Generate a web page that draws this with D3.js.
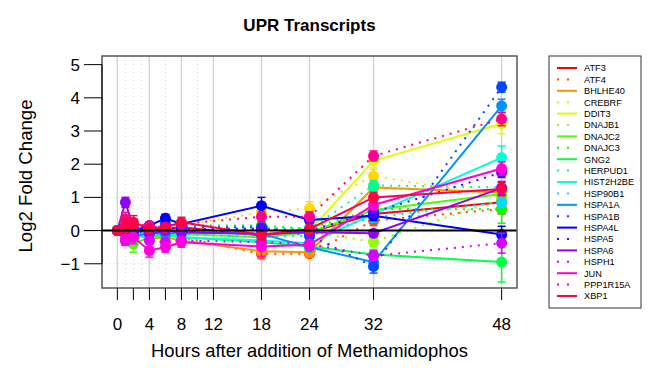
<!DOCTYPE html>
<html><head><meta charset="utf-8">
<script src="https://cdn.jsdelivr.net/npm/d3@7"></script>
<style>body{margin:0;background:#fff;}svg{display:block;font-family:"Liberation Sans",Arial,sans-serif;}</style>
</head><body>
<svg id="c" width="664" height="380"></svg>
<script>
const times = [0,1,2,4,6,8,18,24,32,48];
const genes = ["ATF3","ATF4","BHLHE40","CREBRF","DDIT3","DNAJB1","DNAJC2","DNAJC3","GNG2","HERPUD1","HIST2H2BE","HSP90B1","HSPA1A","HSPA1B","HSPA4L","HSPA5","HSPA6","HSPH1","JUN","PPP1R15A","XBP1"];
const colors = ["#FF0000","#FF4900","#FF9200","#FFDB00","#DBFF00","#92FF00","#49FF00","#00FF00","#00FF49","#00FF92","#00FFDB","#00DBFF","#0092FF","#0049FF","#0000FF","#4900FF","#9200FF","#DB00FF","#FF00DB","#FF0092","#FF0049"];
const xTicks = [0,2,4,6,8,10,12,18,24,32,48];
const xLabels = [0,4,8,12,18,24,32,48];
const yTicks = [-1,0,1,2,3,4,5];
const gridSolid = [0,4,8,12,18,24,32,48];
const gridDotted = [1,2,3,6,10];

const values = [
 [0, 0.10, 0.05, 0.00, 0.05, 0.10, -0.15, -0.05, 0.50, 0.85],   // ATF3
 [0, -0.05, -0.10, -0.20, -0.10, -0.20, -0.70, -0.70, 0.30, 0.65], // ATF4
 [0, 0.10, -0.10, -0.25, -0.20, -0.30, -0.62, -0.65, 1.30, 1.15], // BHLHE40
 [0, 0.20, 0.10, 0.05, 0.10, 0.15, 0.55, 0.67, 1.65, 1.00],      // CREBRF
 [0, 0.05, -0.05, -0.10, 0.00, -0.05, -0.10, 0.00, 2.10, 3.22],  // DDIT3
 [0, -0.10, -0.30, -0.15, -0.10, -0.05, 0.05, -0.05, -0.33, 0.95],// DNAJB1
 [0, -0.10, -0.40, -0.20, -0.15, -0.10, -0.20, -0.05, 0.62, 1.10],// DNAJC2
 [0, 0.05, -0.10, 0.10, 0.05, 0.15, 0.15, 0.05, 0.65, 0.64],     // DNAJC3
 [0, -0.05, -0.20, -0.10, -0.15, -0.20, -0.35, -0.48, -0.72, -0.95],// GNG2
 [0, 0.05, -0.10, -0.05, 0.00, 0.05, 0.10, 0.05, 1.36, 1.30],    // HERPUD1
 [0, -0.10, -0.20, -0.15, -0.10, -0.20, -0.30, -0.38, 0.50, 2.20],// HIST2H2BE
 [0, 0.05, -0.05, -0.10, -0.05, -0.10, -0.20, -0.15, 0.40, 0.85],// HSP90B1
 [0, -0.10, -0.20, -0.05, -0.10, -0.05, -0.10, -0.50, -0.95, 3.76],// HSPA1A
 [0, 0.05, -0.10, 0.05, 0.20, 0.10, 0.10, -0.15, -1.08, 4.32],   // HSPA1B
 [0, 0.10, 0.00, 0.15, 0.37, 0.20, 0.75, 0.32, 0.45, -0.12],     // HSPA4L
 [0, 0.00, -0.10, 0.05, 0.10, 0.05, 0.05, 0.00, 0.55, 1.75],     // HSPA5
 [0, 0.85, 0.10, -0.10, 0.00, -0.05, -0.10, -0.05, -0.08, 1.28], // HSPA6
 [0, -0.30, -0.20, -0.30, -0.35, -0.30, -0.35, -0.40, -0.76, -0.38],// HSPH1
 [0, -0.25, -0.20, -0.60, -0.50, -0.35, -0.48, -0.43, 0.77, 1.87],// JUN
 [0, 0.35, 0.20, 0.15, 0.10, 0.20, 0.42, 0.42, 2.25, 3.36],      // PPP1R15A
 [0, 0.15, 0.25, 0.05, 0.10, 0.25, -0.13, 0.05, 1.00, 1.25]      // XBP1
];
const errors = [
 [0.05,0.15,0.10,0.10,0.10,0.10,0.15,0.10,0.15,0.15],
 [0.05,0.15,0.10,0.10,0.10,0.10,0.15,0.10,0.15,0.15],
 [0.05,0.20,0.15,0.15,0.10,0.15,0.18,0.15,0.15,0.15],
 [0.05,0.20,0.15,0.10,0.10,0.10,0.15,0.20,0.20,0.20],
 [0.05,0.10,0.10,0.10,0.10,0.10,0.15,0.15,0.20,0.30],
 [0.05,0.15,0.20,0.10,0.10,0.10,0.10,0.10,0.15,0.20],
 [0.05,0.15,0.25,0.15,0.10,0.10,0.10,0.10,0.15,0.20],
 [0.05,0.10,0.10,0.10,0.10,0.10,0.10,0.10,0.20,0.42],
 [0.05,0.10,0.15,0.10,0.10,0.10,0.15,0.15,0.15,0.60],
 [0.05,0.10,0.10,0.10,0.10,0.10,0.10,0.10,0.15,0.15],
 [0.05,0.10,0.10,0.10,0.10,0.10,0.10,0.10,0.15,0.35],
 [0.05,0.10,0.10,0.10,0.10,0.10,0.10,0.10,0.15,0.15],
 [0.05,0.10,0.10,0.10,0.10,0.10,0.10,0.10,0.15,0.20],
 [0.05,0.10,0.10,0.10,0.12,0.10,0.10,0.10,0.20,0.15],
 [0.05,0.10,0.10,0.10,0.12,0.10,0.25,0.10,0.15,0.25],
 [0.05,0.10,0.10,0.10,0.10,0.10,0.10,0.10,0.15,0.15],
 [0.05,0.15,0.10,0.10,0.10,0.10,0.10,0.10,0.10,0.20],
 [0.05,0.10,0.10,0.10,0.10,0.10,0.10,0.10,0.15,0.30],
 [0.05,0.20,0.20,0.20,0.15,0.15,0.30,0.15,0.15,0.20],
 [0.05,0.20,0.15,0.10,0.10,0.10,0.15,0.15,0.15,0.20],
 [0.05,0.20,0.20,0.10,0.10,0.15,0.15,0.15,0.15,0.20]
];

const svg = d3.select("#c");
const L = 102, R = 517, T = 56, B = 288;
const x = d3.scaleLinear().domain([-1.92, 49.92]).range([L, R]);
const y = d3.scaleLinear().domain([-1.73, 5.26]).range([B, T]);

// title
svg.append("text").attr("x", (L+R)/2).attr("y", 31).attr("text-anchor","middle")
  .attr("font-size", 17).attr("font-weight","bold").text("UPR Transcripts");

// grid
const g = svg.append("g");
g.selectAll(".gs").data(gridSolid).enter().append("line")
  .attr("x1", d=>x(d)).attr("x2", d=>x(d)).attr("y1", T).attr("y2", B)
  .attr("stroke","#d3d3d3").attr("stroke-width",1.5);
g.selectAll(".gd").data(gridDotted).enter().append("line")
  .attr("x1", d=>x(d)).attr("x2", d=>x(d)).attr("y1", T).attr("y2", B)
  .attr("stroke","#d3d3d3").attr("stroke-width",1).attr("stroke-dasharray","1,3");
g.selectAll(".gh").data([-1,1]).enter().append("line")
  .attr("x1", L).attr("x2", R).attr("y1", d=>y(d)).attr("y2", d=>y(d))
  .attr("stroke","#d3d3d3").attr("stroke-width",1).attr("stroke-dasharray","1,3");

// series
const line = d3.line().x((d,i)=>x(times[i])).y(d=>y(d));
genes.forEach((gname, s) => {
  const col = colors[s];
  const gg = svg.append("g");
  gg.append("path").datum(values[s]).attr("d", line).attr("fill","none")
    .attr("stroke", col).attr("stroke-width", 2)
    .attr("stroke-dasharray", s % 2 ? "2,6" : null);
  const pts = values[s].map((v,i)=>({t:times[i], v, e:errors[s][i]}));
  gg.selectAll("circle").data(pts).enter().append("circle")
    .attr("cx", d=>x(d.t)).attr("cy", d=>y(d.v)).attr("r", 5.5).attr("fill", col);
  const eb = gg.selectAll("g.eb").data(pts).enter().append("g");
  eb.append("line").attr("x1", d=>x(d.t)).attr("x2", d=>x(d.t))
    .attr("y1", d=>y(d.v-d.e)).attr("y2", d=>y(d.v+d.e)).attr("stroke", col).attr("stroke-width",1.5);
  eb.append("line").attr("x1", d=>x(d.t)-4).attr("x2", d=>x(d.t)+4)
    .attr("y1", d=>y(d.v-d.e)).attr("y2", d=>y(d.v-d.e)).attr("stroke", col).attr("stroke-width",1.5);
  eb.append("line").attr("x1", d=>x(d.t)-4).attr("x2", d=>x(d.t)+4)
    .attr("y1", d=>y(d.v+d.e)).attr("y2", d=>y(d.v+d.e)).attr("stroke", col).attr("stroke-width",1.5);
});

// zero line
svg.append("line").attr("x1", L).attr("x2", R).attr("y1", y(0)).attr("y2", y(0))
  .attr("stroke","#000").attr("stroke-width",2);

// box
svg.append("rect").attr("x", L).attr("y", T).attr("width", R-L).attr("height", B-T)
  .attr("fill","none").attr("stroke","#555").attr("stroke-width",1.5);

// x axis
const xa = svg.append("g");
xa.selectAll("line").data(xTicks).enter().append("line")
  .attr("x1", d=>x(d)).attr("x2", d=>x(d)).attr("y1", B).attr("y2", B+12)
  .attr("stroke","#000").attr("stroke-width",1);
xa.selectAll("text").data(xLabels).enter().append("text")
  .attr("x", d=>x(d)).attr("y", 330).attr("text-anchor","middle").attr("font-size",17).text(d=>d);
svg.append("text").attr("x", (L+R)/2).attr("y", 357).attr("text-anchor","middle")
  .attr("font-size",18.4).text("Hours after addition of Methamidophos");

// y axis
const ya = svg.append("g");
ya.append("line").attr("x1", L).attr("x2", L).attr("y1", y(-1)).attr("y2", y(5)).attr("stroke","#000");
ya.selectAll("line.t").data(yTicks).enter().append("line")
  .attr("x1", L-18).attr("x2", L).attr("y1", d=>y(d)).attr("y2", d=>y(d)).attr("stroke","#000");
ya.selectAll("text").data(yTicks).enter().append("text")
  .attr("x", 80).attr("y", d=>y(d)+6).attr("text-anchor","end").attr("font-size",17)
  .text(d=> d<0 ? "\u2212"+Math.abs(d) : d);
svg.append("text").attr("transform", `translate(32,176) rotate(-90)`)
  .attr("text-anchor","middle").attr("font-size",18.6).text("Log2 Fold Change");

// legend
const lg = svg.append("g");
lg.append("rect").attr("x",549).attr("y",56).attr("width",92).attr("height",252)
  .attr("fill","#fff").attr("stroke","#333").attr("stroke-width",1);
genes.forEach((gname, s) => {
  const yy = 68 + s*11.4;
  lg.append("line").attr("x1",557).attr("x2",577).attr("y1",yy).attr("y2",yy)
    .attr("stroke", colors[s]).attr("stroke-width",2)
    .attr("stroke-dasharray", s % 2 ? "2,8" : null);
  lg.append("text").attr("x",584).attr("y",yy+3.3).attr("font-size",9.2).attr("fill","#000").text(gname);
});
</script>
</body></html>
